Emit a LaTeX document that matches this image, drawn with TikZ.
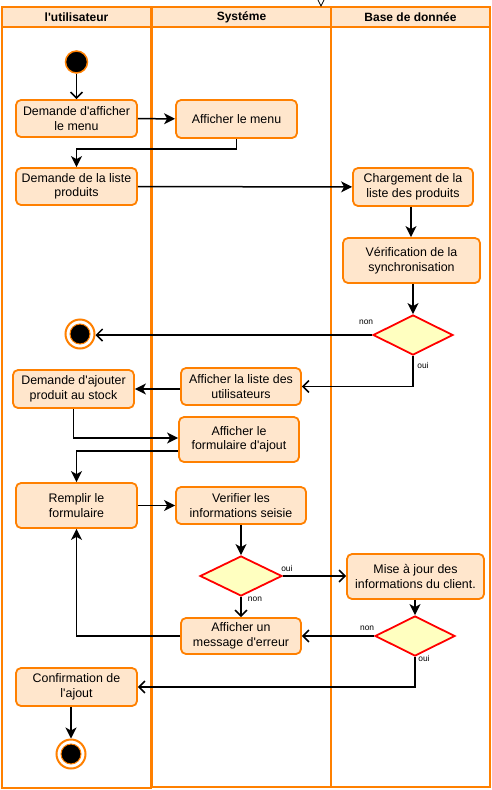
\documentclass[tikz,border=0pt]{standalone}
\usepackage{fontspec}
\setmainfont{Liberation Sans}[Ligatures=TeXOff]
\usetikzlibrary{arrows.meta,shapes}
\definecolor{laneorange}{HTML}{FF8000}
\definecolor{actfill}{HTML}{FFE6CC}
\definecolor{decfill}{HTML}{FFFFC0}
\tikzstyle{lane}=[draw=laneorange,line width=2pt]
\tikzstyle{lanehead}=[draw=laneorange,fill=actfill,line width=2pt]
\tikzstyle{headtxt}=[font=\bfseries\fontsize{12}{14}\selectfont]
\tikzstyle{act}=[rectangle,rounded corners=5pt,draw=laneorange,fill=actfill,line width=1.8pt,align=center,inner sep=2pt,minimum width=121pt,minimum height=37pt,font=\fontsize{12.4}{14.5}\selectfont]
\tikzstyle{dec}=[diamond,draw=red,fill=decfill,line width=1.8pt,minimum width=80pt,minimum height=40pt,inner sep=0pt]
\tikzstyle{init}=[circle,draw=laneorange,fill=black,line width=1.5pt,minimum size=22pt,inner sep=0pt]
\tikzstyle{final}=[circle,draw=laneorange,fill=white,line width=2pt,minimum size=29pt,inner sep=0pt,
  path picture={\draw[laneorange,fill=black,line width=1pt] (path picture bounding box.center) circle (10pt);}]
\tikzstyle{flow}=[line width=1.5pt,-{Stealth[length=11pt,width=11pt,inset=3pt]}]
\tikzstyle{guard}=[line width=1.5pt,-{Straight Barb[length=6pt,width=12pt]}]
\tikzstyle{lbl}=[font=\fontsize{8.4}{10}\selectfont,inner sep=0pt]
\begin{document}
\begin{tikzpicture}[x=1pt,y=-1pt]
  \useasboundingbox (0,0) rectangle (492,790);

  % swimlanes
  \draw[lane] (2,7) rectangle (151,788);
  \draw[lane] (152,7) rectangle (331,787);
  \draw[lane] (331,7) rectangle (490,787);
  \draw[lanehead] (2,7) rectangle (151,27);
  \draw[lanehead] (152,7) rectangle (331,27);
  \draw[lanehead] (331,7) rectangle (490,27);
  \node[headtxt] (h1) at (76.5,17) {l'utilisateur};
  \node[headtxt] (h2) at (241.5,17) {Systéme};
  \node[headtxt] (h3) at (410.5,17) {Base de donnée};
  \draw[line width=0.8pt] (318,0) -- (321,6) -- (324,0);

  \node[init] (S) at (76.5,62) {};

  \node[act] (A1) at (76.5,118.5) {Demande d'afficher\\le menu};
  \draw[guard] (S) -- (A1);

  \node[act,minimum height=38pt] (A2) at (236.5,119) {Afficher le menu};
  \draw[flow] (A1) -- (A2);

  \node[act] (A3) at (76.5,186.5) {Demande de la liste\\produits};
  \draw[flow] (A2.south) -- ++(0,10) -| (A3.north);

  \node[act,minimum width=120pt,minimum height=38pt] (A4) at (413,187) {Chargement de la\\liste des produits};
  \draw[flow] (A3) -- (A4);

  \node[act,minimum width=137pt,minimum height=45pt] (A5) at (411.5,260.5) {Vérification de la\\synchronisation};
  \draw[flow] (A4.south -| 411,0) -- (A5.north -| 411,0);

  \node[dec] (D1) at (413,335) {};
  \draw[flow] (A5.south -| D1.north) -- (D1.north);

  \node[final] (E1) at (80,334) {};
  \draw[guard] (D1.west) -- (D1.west -| E1.east);
  \node[lbl] (n1) at ([xshift=-6pt,yshift=13pt]D1.west) {non};

  \node[act,minimum width=120pt] (A6) at (241,386.5) {Afficher la liste des\\utilisateurs};
  \draw[guard] (D1.south) |- (A6.east);
  \node[lbl] (o1) at ([xshift=10pt,yshift=-10pt]D1.south) {oui};

  \node[act,minimum height=38pt] (A7) at (73.5,389) {Demande d'ajouter\\produit au stock};
  \draw[flow] (A6.west |- A7.east) -- (A7.east);

  \node[act,minimum width=120pt,minimum height=45pt] (A8) at (239,439.5) {Afficher le\\formulaire d'ajout};
  \draw[flow] (A7.south) |- ([yshift=1.5pt]A8.west);

  \node[act,minimum height=45pt] (A9) at (76.5,505.5) {Remplir le\\formulaire};
  \draw[flow] ([yshift=-11.5pt]A8.west) -| (A9.north);

  \node[act,minimum width=130pt] (A10) at (241,505.5) {Verifier les\\informations seisie};
  \draw[flow] (A9) -- (A10);

  \node[dec,minimum width=82pt] (D2) at (241,576) {};
  \draw[flow] (A10) -- (D2);

  \node[act,minimum width=137pt,minimum height=45pt] (A11) at (415.5,576.5) {Mise à jour des\\informations du client.};
  \draw[guard] (D2.east) -- (D2.east -| A11.west);
  \node[lbl] (o2) at ([xshift=4pt,yshift=8pt]D2.east) {oui};

  \node[act,minimum width=120pt,minimum height=36pt] (A12) at (241,636) {Afficher un\\message d'erreur};
  \draw[guard] (D2) -- (A12);
  \node[lbl] (n2) at ([xshift=14pt,yshift=-2pt]D2.south) {non};

  \node[dec] (D3) at (415,636) {};
  \draw[flow] (A11.south -| D3.north) -- (D3.north);
  \draw[guard] (D3.west) -- (A12.east);
  \node[lbl] (n3) at ([xshift=-7pt,yshift=8pt]D3.west) {non};

  \draw[flow] (A12.west) -| (A9.south);

  \node[act,minimum height=38pt] (A13) at (76.5,687) {Confirmation de\\l'ajout};
  \draw[guard] (D3.south) |- (A13.east);
  \node[lbl] (o3) at ([xshift=9pt,yshift=-2pt]D3.south) {oui};

  \node[final] (E2) at (71,754) {};
  \draw[flow] (A13.south -| E2.north) -- (E2.north);
\end{tikzpicture}
\end{document}
